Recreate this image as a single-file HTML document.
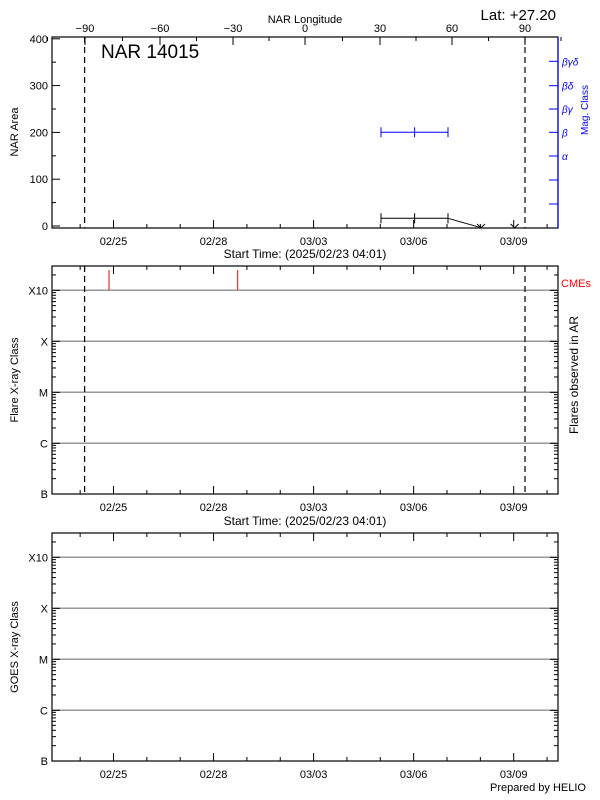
<!DOCTYPE html>
<html><head><meta charset="utf-8"><style>
html,body{margin:0;padding:0;background:#fff;}
svg{display:block;font-family:"Liberation Sans",sans-serif;}
</style></head><body>
<svg id="s" width="600" height="800" xmlns="http://www.w3.org/2000/svg"></svg>
<script>
var s='';
function L(x1,y1,x2,y2,c,w,d){s+='<line x1="'+x1+'" y1="'+y1+'" x2="'+x2+'" y2="'+y2+'" stroke="'+(c||'#000')+'" stroke-width="'+(w||1)+'"'+(d?' stroke-dasharray="'+d+'"':'')+'/>';}
function T(x,y,t,a,sz,c,ex){s+='<text x="'+x+'" y="'+y+'" font-size="'+(sz||11)+'" fill="'+(c||'#000')+'" text-anchor="'+(a||'middle')+'"'+(ex||'')+'>'+t+'</text>';}
var X0=52,X1=558,dayPx=33.35,d25=113.5;
var dates=['02/25','02/28','03/03','03/06','03/09'];
function xaxis(top,bot,topTicks){
  for(var i=-1;i<=13;i++){var x=d25+i*dayPx;if(x<=X0+1||x>=X1-1)continue;var maj=(i%3==0);var l=maj?8:4;
    L(x,bot,x,bot-l);if(topTicks)L(x,top,x,top+l);}
  for(var k=0;k<5;k++)T(d25+k*3*dayPx,bot+17,dates[k]);
}
function frame(top,bot){s+='<rect x="'+X0+'" y="'+top+'" width="'+(X1-X0)+'" height="'+(bot-top)+'" fill="none" stroke="#000" stroke-width="1.2"/>';}
// Panel 1
var p1t=37,p1b=228;
function yA(v){return 226-v*0.468;}
frame(p1t,p1b);
for(var v=0;v<=400;v+=50){var y=yA(v);var m=v%100==0;L(X0,y,X0+(m?8:4),y);if(m)T(X0-4,y+4,v,'end');}
xaxis(p1t,p1b,false);
var lons=[-90,-60,-30,0,30,60,90],lx=[85,160,233,305,380,452,525];
for(var k=0;k<7;k++){L(lx[k],p1t,lx[k],p1t+8);T(lx[k],p1t-5,String(lons[k]).replace('-','&#8722;'));
 if(k<6){var mx=(lx[k]+lx[k+1])/2;L(mx,p1t,mx,p1t+4);}}
L(85+(160-85)/-2,p1t,85+(160-85)/-2,p1t+4);L(525+36,p1t,525+36,p1t+4);
T(305,23,'NAR Longitude');
T(556,20,'Lat: +27.20','end',15);
T(101,58,'NAR 14015','start',19);
L(84.6,p1t,84.6,p1b,'#000',1.2,'6,4');L(525,p1t,525,p1b,'#000',1.2,'6,4');
T(18,132,'NAR Area','middle',11,'#000',' transform="rotate(-90 18 132)"');
T(305,258,'Start Time: (2025/02/23 04:01)','middle',12);
// blue right axis
L(X1,p1t,X1,p1b,'#00f',1.2);
var by=[61.3,85.7,109,132.3,156,180,204],bl=['&#946;&#947;&#948;','&#946;&#948;','&#946;&#947;','&#946;','&#945;','',''];
for(var k=0;k<7;k++){L(X1-9,by[k],X1,by[k],'#00f');if(bl[k])T(562,by[k]+4,bl[k],'start',10,'#00f',' font-style="italic"');}
T(588,110,'Mag. Class','middle',10,'#00f',' transform="rotate(-90 588 110)"');
var px=[381,414.6,448];
L(381,132.3,448,132.3,'#00f');L(381,218.3,448,218.3);
for(var k=0;k<3;k++){L(px[k],127.3,px[k],137.3,'#00f');L(px[k],213.3,px[k],223.3);}
L(448,218.3,481,227.7);
[481,514.6].forEach(function(x){L(x-4,224,x,227.7);L(x+4,224,x,227.7);});
// log panels
function logPanel(top,bot,ys,title,right){
  frame(top,bot);
  var labs=['X10','X','M','C'];
  for(var k=0;k<4;k++){L(X0,ys[k],X1,ys[k],'#999',1.5);T(X0-4,ys[k]+4,labs[k],'end');}
  T(X0-4,bot+4,'B','end');
  var dec=ys[1]-ys[0];
  var bases=[bot,ys[3],ys[2],ys[1],ys[0]];
  bases.forEach(function(b){for(var n=1;n<=9;n++){var y=b-Math.log10(n)*dec;if(y<top+1)continue;var l=(n==1)?8:4;L(X0,y,X0+l,y);L(X1,y,X1-l,y);}});
  xaxis(top,bot,true);
  T(18,(top+bot)/2,title,'middle',11,'#000',' transform="rotate(-90 18 '+(top+bot)/2+')"');
}
logPanel(266,494,[290.3,341.3,392.3,443.3],'Flare X-ray Class');
L(84.6,266,84.6,494,'#000',1.2,'6,4');L(525,266,525,494,'#000',1.2,'6,4');
L(109,270,109,290,'#f00');L(237.7,270,237.7,290,'#f00');
T(561,287,'CMEs','start',11,'#f00');
T(578,375,'Flares observed in AR','middle',12,'#000',' transform="rotate(-90 578 375)"');
T(305,525,'Start Time: (2025/02/23 04:01)','middle',12);
logPanel(533,761,[557.3,608.3,659.3,710.3],'GOES X-ray Class');
T(586,791,'Prepared by HELIO','end',11);
document.getElementById('s').innerHTML=s;
</script>
</body></html>
